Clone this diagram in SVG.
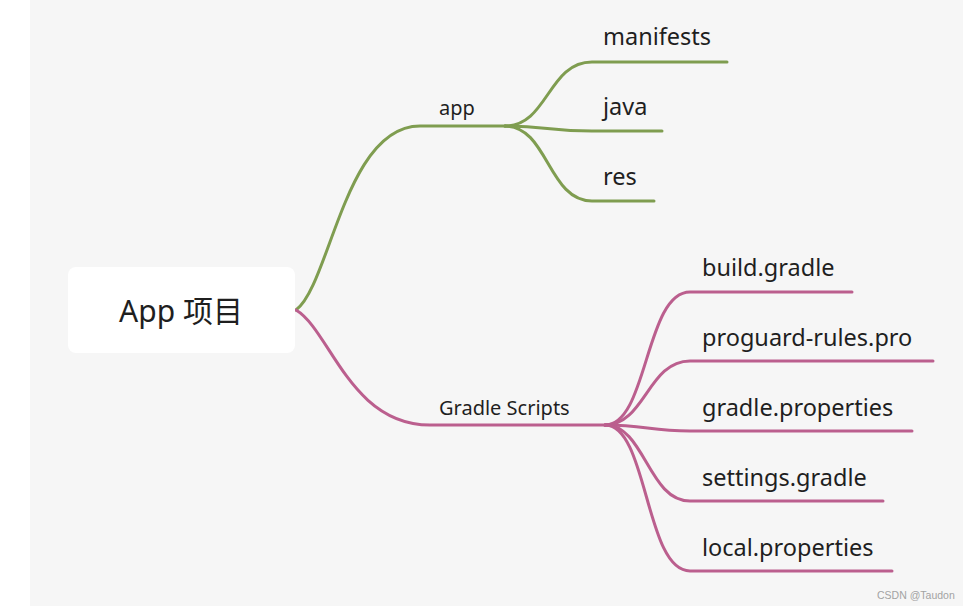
<svg xmlns="http://www.w3.org/2000/svg" width="972" height="610" viewBox="0 0 972 610">
<style>
.bg{fill:#ffffff}
.canvas{fill:#f6f6f6}
.lbl{font-family:"Noto Sans","Noto Sans CJK SC",sans-serif;fill:#1f1f1f}
.l1{font-size:20px}
.l2{font-size:23.5px}
.root{font-size:30px}
.g{fill:none;stroke:#7f9d50;stroke-width:3;stroke-linecap:round}
.p{fill:none;stroke:#bb5f8e;stroke-width:3;stroke-linecap:round}
.wm{font-family:"Liberation Sans",Arial,sans-serif;font-size:10.5px;fill:#a3a3a3}
</style>
<rect class="bg" x="0" y="0" width="972" height="610"/>
<rect class="canvas" x="30" y="0" width="933" height="606"/>
<g id="connectors">
<path class="g" d="M296,310 C330,285 345,126 420,126 L505,126"/>
<path class="p" d="M296,310 C330,330 350,425 430,425 L605,425"/>
<path class="g" d="M505,126 C548,126 548,62 592,62 L727,62"/>
<path class="g" d="M505,126 C545,126 550,131 592,131 L662,131"/>
<path class="g" d="M505,126 C548,126 548,201 592,201 L654,201"/>
<path class="p" d="M605,425 C648,425 645,292 690,292 L852,292"/>
<path class="p" d="M605,425 C645,425 648,361 690,361 L933,361"/>
<path class="p" d="M605,425 C645,425 650,431 690,431 L912,431"/>
<path class="p" d="M605,425 C645,425 648,501 690,501 L883,501"/>
<path class="p" d="M605,425 C648,425 645,571 690,571 L892,571"/>
</g>
<g id="root">
<rect x="68" y="267" width="227" height="86" rx="8" fill="#ffffff"/>
<text class="lbl root" x="181" y="322" text-anchor="middle">App 项目</text>
</g>
<g id="app"><text class="lbl l1" x="439" y="115">app</text></g>
<g id="gradle-scripts"><text class="lbl l1" x="439" y="415">Gradle Scripts</text></g>
<g id="manifests"><text class="lbl l2" x="603" y="45">manifests</text></g>
<g id="java"><text class="lbl l2" x="603" y="115">java</text></g>
<g id="res"><text class="lbl l2" x="603" y="185">res</text></g>
<g id="build-gradle"><text class="lbl l2" x="702" y="276">build.gradle</text></g>
<g id="proguard"><text class="lbl l2" x="702" y="346">proguard-rules.pro</text></g>
<g id="gradle-properties"><text class="lbl l2" x="702" y="416">gradle.properties</text></g>
<g id="settings-gradle"><text class="lbl l2" x="702" y="486">settings.gradle</text></g>
<g id="local-properties"><text class="lbl l2" x="702" y="556">local.properties</text></g>
<text class="wm" x="877" y="599">CSDN @Taudon</text>
</svg>
